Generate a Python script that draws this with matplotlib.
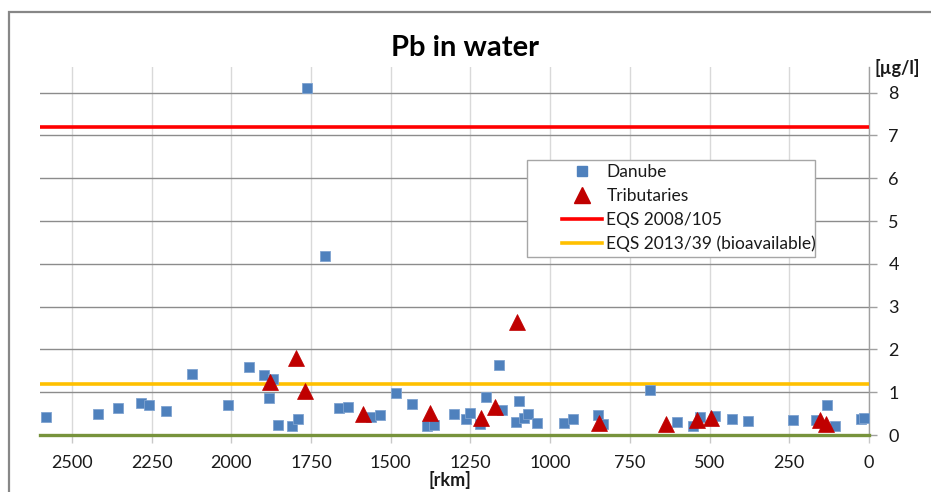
import matplotlib
matplotlib.use("Agg")
import matplotlib.pyplot as plt
from matplotlib.lines import Line2D
from matplotlib.patches import Rectangle

plt.rcParams['font.family'] = ['Lato', 'DejaVu Sans']

# river km / Pb concentration (µg/l)
danube_km = [2582, 2418, 2354, 2284, 2259, 2205, 2122, 2009, 1944, 1898,
             1869, 1883, 1855, 1809, 1791, 1763, 1707, 1662, 1633, 1561,
             1535, 1482, 1433, 1385, 1365, 1302, 1265, 1252, 1219, 1201,
             1161, 1152, 1108, 1098, 1081, 1071, 1040, 957, 928, 851,
             835, 687, 602, 551, 531, 484, 430, 378, 238, 167,
             132, 108, 26, 17]
danube_pb = [0.41, 0.50, 0.63, 0.75, 0.70, 0.57, 1.43, 0.70, 1.58, 1.40,
             1.31, 0.87, 0.24, 0.20, 0.38, 8.11, 4.19, 0.64, 0.66, 0.41,
             0.46, 0.98, 0.73, 0.22, 0.24, 0.50, 0.37, 0.52, 0.25, 0.89,
             1.63, 0.59, 0.30, 0.80, 0.39, 0.49, 0.27, 0.29, 0.37, 0.46,
             0.26, 1.05, 0.31, 0.22, 0.41, 0.45, 0.38, 0.33, 0.34, 0.34,
             0.70, 0.22, 0.38, 0.40]

trib_km = [1796, 1880, 1768, 1587, 1378, 1217, 1172, 1105, 847, 638,
           540, 496, 155, 135]
trib_pb = [1.79, 1.25, 1.02, 0.49, 0.51, 0.39, 0.66, 2.65, 0.29, 0.25,
           0.35, 0.40, 0.35, 0.25]

eqs_2008 = 7.2
eqs_2013 = 1.2

x_ticks = [2500, 2250, 2000, 1750, 1500, 1250, 1000, 750, 500, 250, 0]
y_ticks = [0, 1, 2, 3, 4, 5, 6, 7, 8]

W, H = 931, 492
fig = plt.figure(figsize=(W / 100, H / 100), dpi=100)
ax = fig.add_axes([40 / W, 1 - 435 / H, 829 / W, 368 / H])

ax.set_xlim(2600, 0)
ax.set_ylim(0, 8.6)

ax.axhline(eqs_2008, color='#FF0000', lw=2.6, zorder=3)
ax.axhline(eqs_2013, color='#FFC000', lw=2.6, zorder=3)
ax.axhline(0, color='#77933C', lw=2.4, zorder=3, clip_on=False)

ax.plot(danube_km, danube_pb, 's', ms=7.8, color='#4F81BD',
        mec='#7FA3D0', mew=0.6, zorder=4, clip_on=False)
ax.plot(trib_km, trib_pb, '^', ms=12, color='#C00000',
        mec='#C00000', mew=0.5, zorder=5, clip_on=False)

ax.set_xticks(x_ticks)
ax.set_yticks(y_ticks)
ax.yaxis.tick_right()
ax.grid(axis='y', color='#8C8C8C', lw=1.0, zorder=1)
ax.grid(axis='x', color='#D9D9D9', lw=1.0, zorder=1)
ax.set_axisbelow(True)
for side in ['left', 'top', 'bottom']:
    ax.spines[side].set_visible(False)
ax.spines['right'].set_color('#A0A0A0')
ax.spines['right'].set_linewidth(1.0)
ax.tick_params(axis='x', direction='out', length=5.5, width=1.0,
               color='#C8C8C8', labelsize=13, pad=9, labelcolor='#1a1a1a')
ax.tick_params(axis='y', direction='out', length=6, width=1.0,
               color='#A0A0A0', labelsize=13, pad=8, labelcolor='#1a1a1a')

fig.text(450 / W, 1 - 480 / H, '[rkm]', ha='center', va='center',
         fontsize=13, fontweight='bold', color='#1a1a1a')
fig.text(874 / W, 1 - 68 / H, '[µg/l]', ha='left', va='center',
         fontsize=13, fontweight='bold', color='#1a1a1a')
fig.text(465 / W, 1 - 48 / H, 'Pb in water', ha='center', va='center',
         fontsize=21, fontweight='bold', color='#000000')

# outer chart frame
fig.patches.append(Rectangle((9 / W, -0.05), 1.0, 1 - 12 / H + 0.05,
                             transform=fig.transFigure, fill=False,
                             ec='#878787', lw=1.6))

# legend box drawn separately so the handles can sit inset
fig.patches.append(Rectangle((527 / W, 1 - 257 / H), 288 / W, 97 / H,
                             transform=fig.transFigure, fc='white',
                             ec='#A6A6A6', lw=1.0, zorder=6))
handles = [
    Line2D([], [], ls='none', marker='s', ms=7.8, color='#4F81BD'),
    Line2D([], [], ls='none', marker='^', ms=12, color='#C00000'),
    Line2D([], [], color='#FF0000', lw=2.6),
    Line2D([], [], color='#FFC000', lw=2.6),
]
labels = ['Danube', 'Tributaries', 'EQS 2008/105', 'EQS 2013/39 (bioavailable)']
leg = fig.legend(handles, labels, loc='upper left',
                 bbox_to_anchor=(562 / W, 1 - 164 / H), frameon=False,
                 fontsize=12.5, borderpad=0, borderaxespad=0,
                 handlelength=2.3, handletextpad=0.25, labelspacing=0.45)
leg.set_zorder(7)
for t in leg.get_texts():
    t.set_color('#1a1a1a')

fig.savefig('out.png', dpi=100)
